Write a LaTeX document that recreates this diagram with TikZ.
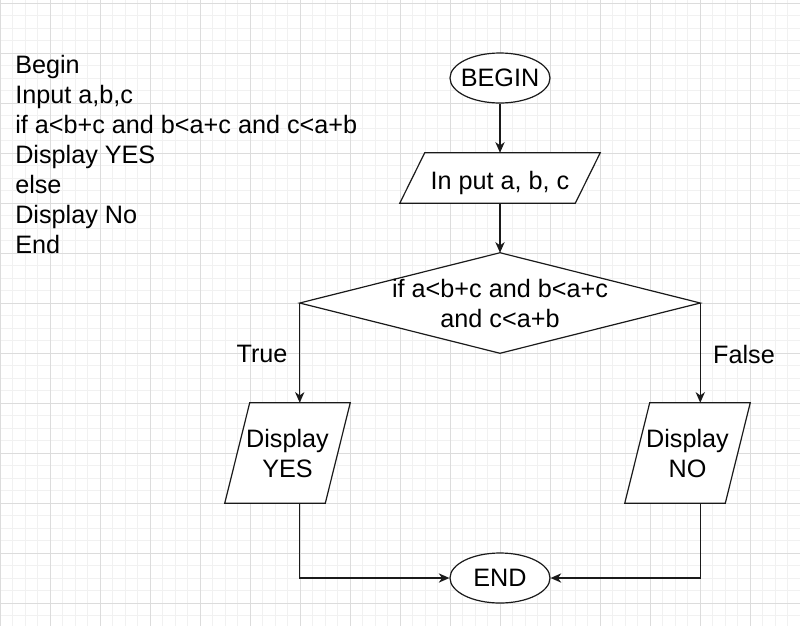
\documentclass[tikz,border=0pt]{standalone}
\usepackage{fontspec}
\setmainfont{Liberation Sans}
\usetikzlibrary{shapes.geometric,arrows.meta}
\definecolor{gminor}{HTML}{F1F1F1}
\definecolor{gmajor}{HTML}{DCDCDC}
\definecolor{ink}{HTML}{1A1A1A}
\pgfdeclarelayer{grid}
\pgfdeclarelayer{bg}
\pgfsetlayers{grid,bg,main}
\begin{document}
\begin{tikzpicture}[x=0.75pt,y=-0.75pt,
  every node/.style={font=\fontsize{18.9}{22.5}\selectfont, inner sep=0pt, text=black},
  shapeline/.style={line width=0.9pt, draw=ink, fill=white},
  arr/.style={line width=0.9pt, draw=ink, -{Stealth[length=8pt,width=7pt,inset=2.5pt]}},
  term/.style={ellipse, shapeline, minimum width=75pt, minimum height=37.5pt},
  iobox/.style={rectangle, align=center, minimum height=#1},
  iobox/.default=37.5pt,
  decbox/.style={rectangle, align=center, minimum width=300pt, minimum height=75pt}]
\useasboundingbox (0,0) rectangle (800,626);
\begin{pgfonlayer}{grid}
\fill[white] (0,0) rectangle (800,626);
\foreach \i in {0,...,64} \draw[gminor, line width=0.75pt] (\i*12.5,0) -- (\i*12.5,626);
\foreach \j in {0,...,50} \draw[gminor, line width=0.75pt] (0,3+\j*12.5) -- (800,3+\j*12.5);
\foreach \i in {0,...,16} \draw[gmajor, line width=0.75pt] (\i*50,0) -- (\i*50,626);
\foreach \j in {0,...,12} \draw[gmajor, line width=0.75pt] (0,3+\j*50) -- (800,3+\j*50);
\end{pgfonlayer}

% pseudo code
\node[align=left, anchor=north west] (code) at (15,55)
  {Begin\\Input a,b,c\\if a<b+c and b<a+c and c<a+b\\Display YES\\else\\Display No\\End};

% flowchart
\node[term] (begin) at (500,78) {\makebox[0pt]{BEGIN}};
\node[iobox, minimum width=150pt, text height=16.5pt, text depth=0pt] (inp) at (500,178) {In put a, b, c};
\node[decbox] (dec) at (500,303) {if a<b+c and b<a+c\\and c<a+b};
\node[iobox=75pt, minimum width=93.75pt] (yes) at (287.5,453) {Display\\YES};
\node[iobox=75pt, minimum width=93.75pt] (no) at (687.5,453) {Display\\NO};
\node[term] (end) at (500,578) {\makebox[0pt]{END}};

\begin{pgfonlayer}{bg}
\draw[shapeline] ([xshift=18.75pt]inp.north west) -- (inp.north east) -- ([xshift=-18.75pt]inp.south east) -- (inp.south west) -- cycle;
\draw[shapeline] (dec.west) -- (dec.north) -- (dec.east) -- (dec.south) -- cycle;
\draw[shapeline] ([xshift=18.75pt]yes.north west) -- (yes.north east) -- ([xshift=-18.75pt]yes.south east) -- (yes.south west) -- cycle;
\draw[shapeline] ([xshift=18.75pt]no.north west) -- (no.north east) -- ([xshift=-18.75pt]no.south east) -- (no.south west) -- cycle;
\end{pgfonlayer}

\node (tlab) at (262,354) {True};
\node (flab) at (744,354) {False};

\draw[arr] (begin) -- (inp);
\draw[arr] (inp) -- (dec);
\draw[arr] (dec.west) -- (dec.west |- yes.north);
\draw[arr] (dec.east) -- (dec.east |- no.north);
\draw[arr] (dec.west |- yes.south) |- (end);
\draw[arr] (dec.east |- no.south) |- (end);
\end{tikzpicture}
\end{document}
